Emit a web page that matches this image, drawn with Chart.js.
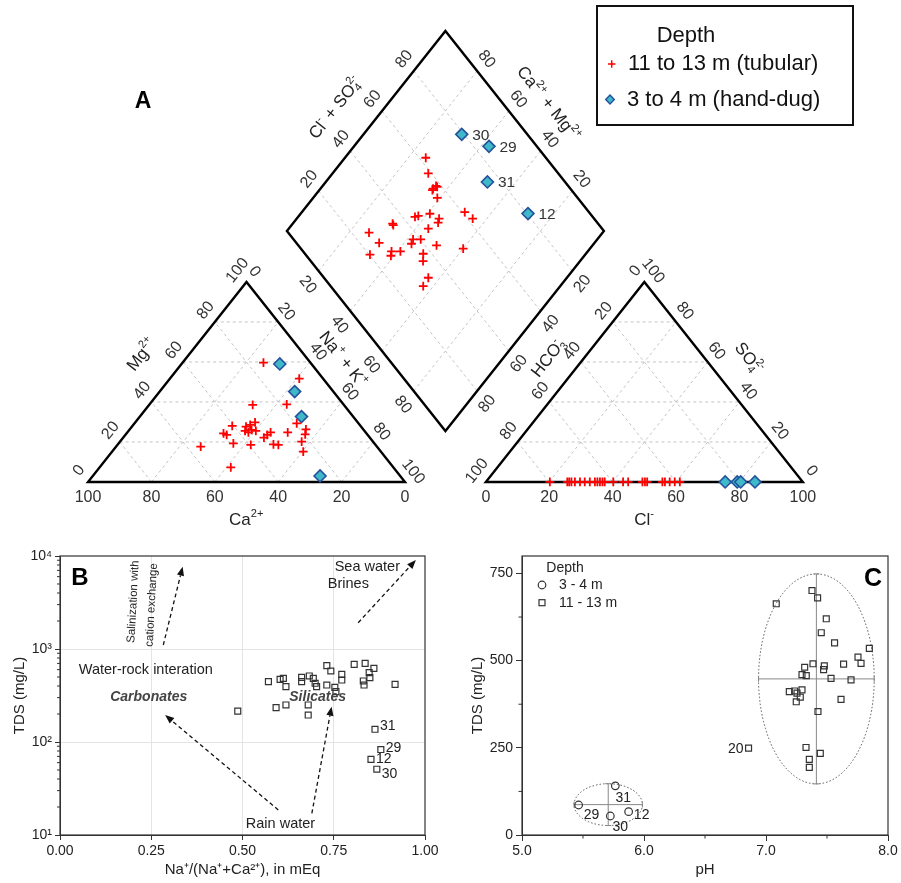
<!DOCTYPE html>
<html>
<head>
<meta charset="utf-8">
<title>Piper diagram, Gibbs-type plot and TDS vs pH</title>
<script src="https://cdn.jsdelivr.net/npm/chart.js@4.4.1/dist/chart.umd.min.js"></script>
<style>
  html, body { margin:0; padding:0; background:#fff; }
  #fig { position:relative; width:901px; height:883px; overflow:hidden; background:#fff; }
  #fig canvas { position:absolute; }
</style>
</head>
<body>
<div id="fig">
  <canvas id="piper" width="901" height="530" style="left:0;top:0;"></canvas>
  <canvas id="chartB" width="450" height="353" style="left:0;top:530px;"></canvas>
  <canvas id="chartC" width="451" height="353" style="left:450px;top:530px;"></canvas>
</div>
<script>
// ================= DATA =================
// ---- Panel A : Piper diagram (% of meq/L) ----
const piperTicks   = [0, 20, 40, 60, 80, 100];
const diamondTicks = [20, 40, 60, 80];

// 11 to 13 m (tubular) – cation triangle
const tubCatMg  = [59.7,51.7,38.5,38.8,29.8,28.5,27.7,28.0,26.0,25.5,24.8,25.5,24.3,23.5,29.3,26.3,23.8,24.8,24.8,23.5,22.2,20.2,15.2,19.3,18.5,18.8,18.5,17.7,7.3];
const tubCatNaK = [25.5,40.8,32.7,43.3,37.8,36.9,36.0,31.5,38.6,36.8,38.2,40.2,30.6,32.0,51.2,55.6,56.6,50.6,45.2,44.8,44.4,57.3,60.3,36.2,42.1,49.1,50.8,26.7,41.4];
// 11 to 13 m (tubular) – anion triangle
const tubAnCl  = [20.2,25.7,26.3,27.0,28.1,29.7,31.2,32.8,34.4,35.2,36.0,36.8,37.5,40.2,43.3,44.9,49.4,50.2,50.9,55.7,56.5,58.0,59.6,61.2];
const tubAnSO4 = [0,0,0,0,0,0,0,0,0,0,0,0,0,0,0,0,0,0,0,0,0,0,0,0];
// 11 to 13 m (tubular) – diamond
const tubDiaClSO4 = [62.1,59.0,58.3,56.7,58.4,56.1,55.7,43.9,45.2,49.4,51.1,49.8,60.8,61.7,35.2,35.0,45.2,25.5,26.1,37.7,36.1,40.1,43.6,51.2,20.3,27.9,26.6,30.7,37.3,35.4,32.9,29.2];
const tubDiaNaK   = [25.5,30.2,35.8,35.5,36.4,35.7,39.2,36.9,37.7,40.8,44.9,45.6,51.4,55.5,31.5,32.1,44.0,26.3,32.1,41.9,42.5,44.3,50.8,60.0,32.1,38.1,39.0,40.9,48.7,50.5,56.3,56.8];

// 3 to 4 m (hand-dug)
const handIds = ['30', '29', '31', '12'];
const handMg  = [59.0, 45.2, 32.7, 3.0];
const handNaK = [31.0, 42.6, 51.0, 71.7];
const handCl  = [79.3, 84.9, 75.5, 80.4];
const handSO4 = [0, 0, 0, 0];

// ---- Panel B : TDS vs Na/(Na+Ca) ----
const bXTicks = [0, 0.25, 0.5, 0.75, 1];
const bXTickLabels = ['0.00', '0.25', '0.50', '0.75', '1.00'];
const bYTicks = [10, 100, 1000, 10000];
const bYTickLabels = ['10¹', '10²', '10³', '10⁴'];
const bTubRatio = [0.487,0.571,0.603,0.612,0.619,0.592,0.619,0.662,0.662,0.683,0.694,0.699,0.703,0.680,0.680,0.731,0.742,0.731,0.753,0.756,0.772,0.772,0.806,0.836,0.860,0.847,0.849,0.831,0.833,0.918];
const bTubTDS   = [215,446,472,484,394,234,250,495,446,513,484,428,394,250,195,662,580,410,387,348,534,464,684,701,620,557,492,453,410,417];
const bHandIds   = ['31', '29', '12', '30'];
const bHandRatio = [0.863, 0.879, 0.852, 0.868];
const bHandTDS   = [137, 83, 65, 51];

// ---- Panel C : TDS vs pH ----
const cXTicks = [5, 6, 7, 8];
const cXTickLabels = ['5.0', '6.0', '7.0', '8.0'];
const cYTicks = [0, 250, 500, 750];
const cTubPH  = [7.377,7.423,7.084,7.494,7.453,7.562,7.847,7.754,7.779,7.636,7.385,7.317,7.478,7.472,7.295,7.330,7.533,7.697,7.191,7.235,7.295,7.254,7.281,7.248,7.615,7.426,7.328,7.445,7.355,7.355];
const cTubTDS = [701,680,663,620,580,551,535,510,492,490,491,481,485,474,460,457,449,445,411,413,416,407,395,382,389,354,251,234,217,194];
const cTubLabeledIds = ['20'];
const cTubLabeledPH  = [6.857];
const cTubLabeledTDS = [249];
const cHandIds = ['31', '29', '30', '12'];
const cHandPH  = [5.765, 5.464, 5.724, 5.874];
const cHandTDS = [141, 86, 54.5, 67];

// ================= HELPERS =================
const FAM = "'Liberation Sans', Arial, Helvetica, sans-serif";
Chart.defaults.font.family = FAM;
Chart.defaults.color = '#222';

function drawRich(ctx, segs, x, y, o) {
  o = o || {};
  const size = o.size || 14, small = size * 0.65;
  const F = s => `${o.style || 'normal'} ${o.weight || 'normal'} ${s}px ${FAM}`;
  const w = segs.map(s => {
    if (typeof s === 'string') { ctx.font = F(size); return ctx.measureText(s).width; }
    ctx.font = F(small);
    if (s.ss) return Math.max(ctx.measureText(s.b).width, ctx.measureText(s.p).width) + 1;
    return ctx.measureText(s.t).width + 0.5;
  });
  const total = w.reduce((p, c) => p + c, 0);
  ctx.save();
  ctx.translate(x, y);
  ctx.rotate((o.rot || 0) * Math.PI / 180);
  ctx.fillStyle = o.color || '#222';
  ctx.textAlign = 'left';
  ctx.textBaseline = 'alphabetic';
  let cx = o.align === 'left' ? 0 : (o.align === 'right' ? -total : -total / 2);
  const base = size * 0.35;
  segs.forEach((s, i) => {
    if (typeof s === 'string') { ctx.font = F(size); ctx.fillText(s, cx, base); }
    else {
      ctx.font = F(small);
      if (s.ss) { ctx.fillText(s.b, cx, base + size * 0.2); ctx.fillText(s.p, cx, base - size * 0.45); }
      else if (s.sup) ctx.fillText(s.t, cx, base - size * 0.45);
      else ctx.fillText(s.t, cx, base + size * 0.2);
    }
    cx += w[i];
  });
  ctx.restore();
}

function dashedArrow(ctx, x1, y1, x2, y2) {
  const ang = Math.atan2(y2 - y1, x2 - x1), hl = 9, hw = 3.6;
  const bx = x2 - hl * Math.cos(ang), by = y2 - hl * Math.sin(ang);
  ctx.save();
  ctx.strokeStyle = '#111'; ctx.fillStyle = '#111'; ctx.lineWidth = 1.3;
  ctx.setLineDash([4, 3]);
  ctx.beginPath(); ctx.moveTo(x1, y1); ctx.lineTo(bx, by); ctx.stroke();
  ctx.setLineDash([]);
  ctx.beginPath();
  ctx.moveTo(x2, y2);
  ctx.lineTo(bx + hw * Math.sin(ang), by - hw * Math.cos(ang));
  ctx.lineTo(bx - hw * Math.sin(ang), by + hw * Math.cos(ang));
  ctx.closePath(); ctx.fill();
  ctx.restore();
}

function frameAndMinor(chart, xMinor, yMinor, len) {
  const { ctx, chartArea: a, scales: { x, y } } = chart;
  ctx.save();
  ctx.strokeStyle = '#333'; ctx.lineWidth = 1.2;
  ctx.strokeRect(a.left, a.top, a.right - a.left, a.bottom - a.top);
  ctx.lineWidth = 1;
  ctx.beginPath();
  xMinor.forEach(v => { const p = x.getPixelForValue(v); ctx.moveTo(p, a.bottom); ctx.lineTo(p, a.bottom + len); });
  yMinor.forEach(v => { const p = y.getPixelForValue(v); ctx.moveTo(a.left, p); ctx.lineTo(a.left - len, p); });
  ctx.stroke();
  ctx.restore();
}

// ================= PANEL A : PIPER =================
const H = Math.sqrt(3) / 2;
const GAP = 25.5;
const OFF = 100 + GAP;
const DB = { x: 100 + GAP / 2, y: GAP * H };
const DL = { x: DB.x - 50, y: DB.y + 100 * H };
const DT = { x: DB.x, y: DB.y + 200 * H };
const DR = { x: DB.x + 50, y: DB.y + 100 * H };
const BRK = { x: NaN, y: NaN };

const catXY = (mg, nak) => ({ x: nak + mg / 2, y: mg * H });
const anXY  = (so4, cl) => ({ x: OFF + cl + so4 / 2, y: so4 * H });
const diaXY = (a, c) => ({ x: DL.x + 0.5 * a + 0.5 * c, y: DL.y + H * (a - c) });

const tubPts = [].concat(
  tubCatMg.map((mg, i) => catXY(mg, tubCatNaK[i])),
  tubAnCl.map((cl, i) => anXY(tubAnSO4[i], cl)),
  tubDiaClSO4.map((a, i) => diaXY(a, tubDiaNaK[i]))
);
const handPts = [].concat(
  handMg.map((mg, i) => catXY(mg, handNaK[i])),
  handCl.map((cl, i) => anXY(handSO4[i], cl)),
  handCl.map((cl, i) => diaXY(cl + handSO4[i], handNaK[i]))
);

const outline = [
  { x: 0, y: 0 }, { x: 100, y: 0 }, { x: 50, y: 100 * H }, { x: 0, y: 0 }, { x: 100, y: 0 }, BRK,
  { x: OFF, y: 0 }, { x: OFF + 100, y: 0 }, { x: OFF + 50, y: 100 * H }, { x: OFF, y: 0 }, { x: OFF + 100, y: 0 }, BRK,
  DB, DR, DT, DL, DB, DR
];
const gridPts = [];
[0, OFF].forEach(ox => {
  diamondTicks.forEach(v => {
    gridPts.push({ x: ox + v / 2, y: v * H }, { x: ox + 100 - v / 2, y: v * H }, BRK);
    gridPts.push({ x: ox + v, y: 0 }, { x: ox + v + (100 - v) / 2, y: (100 - v) * H }, BRK);
    gridPts.push({ x: ox + 100 - v, y: 0 }, { x: ox + (100 - v) / 2, y: (100 - v) * H }, BRK);
  });
});
diamondTicks.forEach(v => {
  gridPts.push(diaXY(v, 0), diaXY(v, 100), BRK);
  gridPts.push(diaXY(0, v), diaXY(100, v), BRK);
});

const edgeSpecs = [
  { p0: { x: 100, y: 0 }, p1: { x: 0, y: 0 }, vals: piperTicks, dir: { x: 0, y: -1 }, d: 16 },
  { p0: { x: 0, y: 0 }, p1: { x: 50, y: 100 * H }, vals: piperTicks, dir: { x: -0.5, y: H }, d: 14.5 },
  { p0: { x: 50, y: 100 * H }, p1: { x: 100, y: 0 }, vals: piperTicks, dir: { x: 0.5, y: H }, d: 13 },
  { p0: { x: OFF, y: 0 }, p1: { x: OFF + 100, y: 0 }, vals: piperTicks, dir: { x: 0, y: -1 }, d: 16 },
  { p0: { x: OFF + 50, y: 100 * H }, p1: { x: OFF, y: 0 }, vals: piperTicks, dir: { x: -0.5, y: H }, d: 14 },
  { p0: { x: OFF + 100, y: 0 }, p1: { x: OFF + 50, y: 100 * H }, vals: piperTicks, dir: { x: 0.5, y: H }, d: 14 },
  { p0: DL, p1: DT, vals: diamondTicks, dir: { x: -0.5, y: H }, d: 15 },
  { p0: DR, p1: DT, vals: diamondTicks, dir: { x: 0.5, y: H }, d: 15 },
  { p0: DL, p1: DB, vals: diamondTicks, dir: { x: -0.5, y: -H }, d: 17.5 },
  { p0: DR, p1: DB, vals: diamondTicks, dir: { x: 0.5, y: -H }, d: 16.5 }
];

const piperText = {
  id: 'piperText',
  afterDatasetsDraw(chart) {
    const ctx = chart.ctx, xs = chart.scales.x, ys = chart.scales.y;
    const P = p => ({ x: xs.getPixelForValue(p.x), y: ys.getPixelForValue(p.y) });
    const U = d => { const o = P({ x: 0, y: 0 }), b = P(d); const dx = b.x - o.x, dy = b.y - o.y, l = Math.hypot(dx, dy); return { x: dx / l, y: dy / l }; };
    const angOf = (p0, p1) => { const a = P(p0), b = P(p1); let t = Math.atan2(b.y - a.y, b.x - a.x) * 180 / Math.PI; if (t > 90) t -= 180; if (t < -90) t += 180; return t; };
    ctx.save();
    // tick labels
    ctx.fillStyle = '#333'; ctx.font = `16px ${FAM}`; ctx.textAlign = 'center'; ctx.textBaseline = 'middle';
    edgeSpecs.forEach(e => {
      const u = U(e.dir), rot = angOf(e.p0, e.p1) * Math.PI / 180;
      e.vals.forEach(v => {
        const t = v / 100;
        const q = P({ x: e.p0.x + t * (e.p1.x - e.p0.x), y: e.p0.y + t * (e.p1.y - e.p0.y) });
        ctx.save(); ctx.translate(q.x + u.x * e.d, q.y + u.y * e.d); ctx.rotate(rot); ctx.fillText(String(v), 0, 0); ctx.restore();
      });
    });
    // axis titles
    const rotUp = angOf({ x: 0, y: 0 }, { x: 50, y: 100 * H });
    const rotDn = -rotUp;
    const titles = [
      { at: { x: 25, y: 50 * H }, dx: -26, dy: -28, rot: rotUp, segs: ['Mg', { t: '2+', sup: 1 }] },
      { at: { x: 75, y: 50 * H }, dx: 18, dy: -23, rot: rotDn, segs: ['Na', { t: '+', sup: 1 }, ' + K', { t: '+', sup: 1 }] },
      { at: { x: 50, y: 0 }, dx: 0, dy: 37, rot: 0, segs: ['Ca', { t: '2+', sup: 1 }] },
      { at: { x: OFF + 50, y: 0 }, dx: 0, dy: 37, rot: 0, segs: ['Cl', { t: '-', sup: 1 }] },
      { at: { x: OFF + 25, y: 50 * H }, dx: -17, dy: -25, rot: rotUp, segs: ['HCO', { ss: 1, b: '3', p: '-' }] },
      { at: { x: OFF + 75, y: 50 * H }, dx: 26, dy: -24, rot: rotDn, segs: ['SO', { ss: 1, b: '4', p: '2-' }] },
      { at: diaXY(50, 0), dx: -31, dy: -24, rot: rotUp, segs: ['Cl', { t: '-', sup: 1 }, ' + SO', { ss: 1, b: '4', p: '2-' }] },
      { at: diaXY(100, 50), dx: 24.5, dy: -27.5, rot: rotDn, segs: ['Ca', { t: '2+', sup: 1 }, ' + Mg', { t: '2+', sup: 1 }] }
    ];
    titles.forEach(t => { const q = P(t.at); drawRich(ctx, t.segs, q.x + t.dx, q.y + t.dy, { size: 17, rot: t.rot, color: '#222' }); });
    // hand-dug labels in diamond
    ctx.font = `15.5px ${FAM}`; ctx.textAlign = 'left'; ctx.textBaseline = 'middle'; ctx.fillStyle = '#333';
    handIds.forEach((id, i) => { const q = P(diaXY(handCl[i] + handSO4[i], handNaK[i])); ctx.fillText(id, q.x + 10.5, q.y + 1); });
    // panel letter
    ctx.fillStyle = '#000'; ctx.font = `bold 23px ${FAM}`; ctx.textAlign = 'center';
    ctx.fillText('A', 143, 102);
    // legend
    ctx.strokeStyle = '#111'; ctx.lineWidth = 2;
    ctx.strokeRect(597, 6, 256, 119);
    ctx.fillStyle = '#111'; ctx.font = `22px ${FAM}`; ctx.textAlign = 'center';
    ctx.fillText('Depth', 686, 36);
    ctx.textAlign = 'left';
    ctx.fillText('11 to 13 m (tubular)', 628, 64);
    ctx.fillText('3 to 4 m (hand-dug)', 627, 100);
    ctx.strokeStyle = '#ff0000'; ctx.lineWidth = 1.5;
    ctx.beginPath(); ctx.moveTo(608, 64); ctx.lineTo(615.5, 64); ctx.moveTo(611.7, 60.2); ctx.lineTo(611.7, 67.8); ctx.stroke();
    ctx.fillStyle = '#3fb8c9'; ctx.strokeStyle = '#24519b'; ctx.lineWidth = 1.4;
    ctx.beginPath(); ctx.moveTo(610, 95); ctx.lineTo(614.3, 99.5); ctx.lineTo(610, 104); ctx.lineTo(605.7, 99.5); ctx.closePath(); ctx.fill(); ctx.stroke();
    ctx.restore();
  }
};

new Chart(document.getElementById('piper'), {
  type: 'scatter',
  data: {
    datasets: [
      { label: '11 to 13 m (tubular)', data: tubPts, pointStyle: 'cross', pointRadius: 4.4, borderColor: '#ff0000', backgroundColor: '#ff0000', pointBorderWidth: 1.8, order: 0 },
      { label: '3 to 4 m (hand-dug)', data: handPts, pointStyle: 'rectRot', pointRadius: 6, backgroundColor: '#3fb8c9', borderColor: '#24519b', pointBorderWidth: 1.6, order: 0 },
      { label: 'outline', data: outline, showLine: true, spanGaps: false, borderColor: '#000', borderWidth: 2.4, pointRadius: 0, order: 1 },
      { label: 'grid', data: gridPts, showLine: true, spanGaps: false, borderColor: '#c4c4c4', borderWidth: 1, borderDash: [3, 3], pointRadius: 0, order: 2 }
    ]
  },
  options: {
    responsive: false, animation: false, events: [],
    layout: { padding: 0, autoPadding: false },
    plugins: { legend: { display: false }, tooltip: { enabled: false } },
    scales: {
      x: { type: 'linear', display: false, bounds: 'data', min: -27.76, max: 256.47 },
      y: { type: 'linear', display: false, bounds: 'data', min: -20.8, max: 208.7 }
    }
  },
  plugins: [piperText]
});

// ================= PANEL B =================
const bExtras = {
  id: 'bExtras',
  afterDraw(chart) {
    const { ctx, chartArea: a, scales: { x, y } } = chart;
    const minor = [];
    bYTicks.slice(0, -1).forEach(d => { for (let k = 2; k <= 9; k++) minor.push(k * d); });
    frameAndMinor(chart, [], minor, 3);
    const X = v => x.getPixelForValue(v), Y = v => y.getPixelForValue(v);
    ctx.save();
    // arrows
    dashedArrow(ctx, X(0.283), Y(1104), X(0.336), Y(7670));
    dashedArrow(ctx, X(0.817), Y(1918), X(0.975), Y(9060));
    dashedArrow(ctx, X(0.598), Y(18.6), X(0.288), Y(195));
    dashedArrow(ctx, X(0.690), Y(17.1), X(0.744), Y(240));
    // texts
    ctx.fillStyle = '#222'; ctx.textAlign = 'center'; ctx.textBaseline = 'middle';
    ctx.font = `14.5px ${FAM}`;
    ctx.fillText('Sea water', X(0.842), Y(7560));
    ctx.fillText('Brines', X(0.790), Y(5000));
    ctx.fillText('Water-rock interation', X(0.235), Y(594));
    ctx.fillText('Rain water', X(0.604), Y(13.1));
    ctx.font = `italic bold 14px ${FAM}`; ctx.fillStyle = '#444';
    ctx.fillText('Carbonates', X(0.243), Y(303));
    ctx.fillText('Silicates', X(0.706), Y(303));
    ctx.fillStyle = '#222'; ctx.font = `11.5px ${FAM}`;
    [['Salinization with', 0.201, 3226], ['cation exchange', 0.251, 2972]].forEach(t => {
      ctx.save(); ctx.translate(X(t[1]), Y(t[2])); ctx.rotate(-87 * Math.PI / 180); ctx.fillText(t[0], 0, 0); ctx.restore();
    });
    // labels of hand-dug wells
    const dy = { '31': -3, '29': -1, '12': 0, '30': 5 };
    ctx.font = `14px ${FAM}`; ctx.textAlign = 'left';
    bHandIds.forEach((id, i) => ctx.fillText(id, X(bHandRatio[i]) + 5, Y(bHandTDS[i]) + dy[id]));
    // panel letter
    ctx.fillStyle = '#000'; ctx.font = `bold 24px ${FAM}`; ctx.textAlign = 'center';
    ctx.fillText('B', a.left + 20, a.top + 22);
    ctx.restore();
  }
};

new Chart(document.getElementById('chartB'), {
  type: 'scatter',
  data: {
    datasets: [
      { label: '11 - 13 m', data: bTubRatio.map((v, i) => ({ x: v, y: bTubTDS[i] })), pointStyle: 'rect', pointRadius: 4.2, borderColor: '#333', backgroundColor: 'rgba(255,255,255,0)', pointBorderWidth: 1.2 },
      { label: '3 - 4 m', data: bHandRatio.map((v, i) => ({ x: v, y: bHandTDS[i] })), pointStyle: 'rect', pointRadius: 4.2, borderColor: '#333', backgroundColor: 'rgba(255,255,255,0)', pointBorderWidth: 1.2 }
    ]
  },
  options: {
    responsive: false, animation: false, events: [],
    layout: { padding: { left: 0, right: 25, top: 26, bottom: 0 } },
    plugins: { legend: { display: false }, tooltip: { enabled: false } },
    scales: {
      x: {
        type: 'linear', min: 0, max: 1, bounds: 'data',
        afterBuildTicks: s => { s.ticks = bXTicks.map(v => ({ value: v })); },
        afterFit: s => { s.height = 48; },
        ticks: { callback: v => { const i = bXTicks.indexOf(v); return i < 0 ? '' : bXTickLabels[i]; }, font: { size: 14 }, color: '#222', padding: 3, maxRotation: 0, autoSkip: false },
        grid: { color: c => (c.tick && c.tick.value > 0 && c.tick.value < 1) ? '#e4e4e4' : 'rgba(0,0,0,0)', tickColor: '#333', tickLength: 5 },
        border: { color: '#333', width: 1 },
        title: { display: true, text: 'Na⁺/(Na⁺+Ca²⁺), in mEq', font: { size: 15 }, color: '#222', padding: { top: 0, bottom: 4 } }
      },
      y: {
        type: 'logarithmic', min: 10, max: 10000, bounds: 'data',
        afterBuildTicks: s => { s.ticks = bYTicks.map(v => ({ value: v })); },
        afterFit: s => { s.width = 60; },
        ticks: { callback: v => { const i = bYTicks.indexOf(v); return i < 0 ? '' : bYTickLabels[i]; }, font: { size: 14 }, color: '#222', padding: 3, autoSkip: false },
        grid: { color: c => (c.tick && (c.tick.value === 100 || c.tick.value === 1000)) ? '#e4e4e4' : 'rgba(0,0,0,0)', tickColor: '#333', tickLength: 5 },
        border: { color: '#333', width: 1 },
        title: { display: true, text: 'TDS (mg/L)', font: { size: 15 }, color: '#222', padding: { top: 11, bottom: 0 } }
      }
    }
  },
  plugins: [bExtras]
});

// ================= PANEL C =================
const mean = a => a.reduce((p, c) => p + c, 0) / a.length;
const cGroups = [
  { ph: cHandPH, tds: cHandTDS, rx: 0.28, ry: 60 },
  { ph: cTubPH.concat(cTubLabeledPH), tds: cTubTDS.concat(cTubLabeledTDS), rx: 0.474, ry: 301 }
];

const cExtras = {
  id: 'cExtras',
  beforeDatasetsDraw(chart) {
    const { ctx, scales: { x, y } } = chart;
    ctx.save();
    cGroups.forEach(g => {
      const mx = mean(g.ph), my = mean(g.tds);
      const cx = x.getPixelForValue(mx), cy = y.getPixelForValue(my);
      const rx = Math.abs(x.getPixelForValue(mx + g.rx) - cx), ry = Math.abs(y.getPixelForValue(my + g.ry) - cy);
      ctx.strokeStyle = '#555'; ctx.lineWidth = 1; ctx.setLineDash([1.5, 2]);
      ctx.beginPath(); ctx.ellipse(cx, cy, rx, ry, 0, 0, Math.PI * 2); ctx.stroke();
      ctx.setLineDash([]); ctx.strokeStyle = '#888';
      ctx.beginPath();
      ctx.moveTo(cx - rx, cy); ctx.lineTo(cx + rx, cy);
      ctx.moveTo(cx, cy - ry); ctx.lineTo(cx, cy + ry);
      ctx.moveTo(cx - rx, cy - 3); ctx.lineTo(cx - rx, cy + 3);
      ctx.moveTo(cx + rx, cy - 3); ctx.lineTo(cx + rx, cy + 3);
      ctx.moveTo(cx - 3, cy - ry); ctx.lineTo(cx + 3, cy - ry);
      ctx.moveTo(cx - 3, cy + ry); ctx.lineTo(cx + 3, cy + ry);
      ctx.stroke();
    });
    ctx.restore();
  },
  afterDraw(chart) {
    const { ctx, chartArea: a, scales: { x, y } } = chart;
    frameAndMinor(chart, [5.5, 6.5, 7.5], [125, 375, 625], 3.5);
    const X = v => x.getPixelForValue(v), Y = v => y.getPixelForValue(v);
    ctx.save();
    ctx.fillStyle = '#222'; ctx.textBaseline = 'middle'; ctx.textAlign = 'center';
    ctx.font = `14px ${FAM}`;
    const off = { '31': [8, 12], '29': [13, 10], '12': [13, 4], '30': [10, 11] };
    cHandIds.forEach((id, i) => ctx.fillText(id, X(cHandPH[i]) + off[id][0], Y(cHandTDS[i]) + off[id][1]));
    ctx.textAlign = 'right';
    cTubLabeledIds.forEach((id, i) => ctx.fillText(id, X(cTubLabeledPH[i]) - 5, Y(cTubLabeledTDS[i]) + 1));
    // legend
    ctx.textAlign = 'center';
    ctx.fillText('Depth', a.left + 43, a.top + 12.5);
    ctx.textAlign = 'left';
    ctx.fillText('3 - 4 m', a.left + 37, a.top + 29.5);
    ctx.fillText('11 - 13 m', a.left + 37, a.top + 47);
    ctx.strokeStyle = '#333'; ctx.lineWidth = 1.2;
    ctx.beginPath(); ctx.arc(a.left + 20, a.top + 29, 3.8, 0, Math.PI * 2); ctx.stroke();
    ctx.strokeRect(a.left + 17, a.top + 43.7, 6, 6);
    // panel letter
    ctx.fillStyle = '#000'; ctx.font = `bold 25px ${FAM}`; ctx.textAlign = 'center';
    ctx.fillText('C', a.right - 15, a.top + 23);
    ctx.restore();
  }
};

new Chart(document.getElementById('chartC'), {
  type: 'scatter',
  data: {
    datasets: [
      { label: '3 - 4 m', data: cHandPH.map((v, i) => ({ x: v, y: cHandTDS[i] })), pointStyle: 'circle', pointRadius: 3.8, borderColor: '#333', backgroundColor: 'rgba(255,255,255,0)', pointBorderWidth: 1.2 },
      { label: '11 - 13 m', data: cTubPH.map((v, i) => ({ x: v, y: cTubTDS[i] })), pointStyle: 'rect', pointRadius: 4.2, borderColor: '#333', backgroundColor: 'rgba(255,255,255,0)', pointBorderWidth: 1.2 },
      { label: '11 - 13 m (20)', data: cTubLabeledPH.map((v, i) => ({ x: v, y: cTubLabeledTDS[i] })), pointStyle: 'rect', pointRadius: 4.2, borderColor: '#333', backgroundColor: 'rgba(255,255,255,0)', pointBorderWidth: 1.2 }
    ]
  },
  options: {
    responsive: false, animation: false, events: [],
    layout: { padding: { left: 0, right: 13, top: 26, bottom: 0 } },
    plugins: { legend: { display: false }, tooltip: { enabled: false } },
    scales: {
      x: {
        type: 'linear', min: 5, max: 8, bounds: 'data',
        afterBuildTicks: s => { s.ticks = cXTicks.map(v => ({ value: v })); },
        afterFit: s => { s.height = 48; },
        ticks: { callback: v => { const i = cXTicks.indexOf(v); return i < 0 ? '' : cXTickLabels[i]; }, font: { size: 14 }, color: '#222', padding: 2, maxRotation: 0, autoSkip: false },
        grid: { drawOnChartArea: false, tickColor: '#333', tickLength: 6 },
        border: { color: '#333', width: 1 },
        title: { display: true, text: 'pH', font: { size: 15 }, color: '#222', padding: { top: 0, bottom: 4 } }
      },
      y: {
        type: 'linear', min: 0, max: 800, bounds: 'data',
        afterBuildTicks: s => { s.ticks = cYTicks.map(v => ({ value: v })); },
        afterFit: s => { s.width = 72; },
        ticks: { callback: v => String(v), font: { size: 14 }, color: '#222', padding: 3, autoSkip: false },
        grid: { drawOnChartArea: false, tickColor: '#333', tickLength: 6 },
        border: { color: '#333', width: 1 },
        title: { display: true, text: 'TDS (mg/L)', font: { size: 15 }, color: '#222', padding: { top: 19, bottom: 0 } }
      }
    }
  },
  plugins: [cExtras]
});
</script>
</body>
</html>
